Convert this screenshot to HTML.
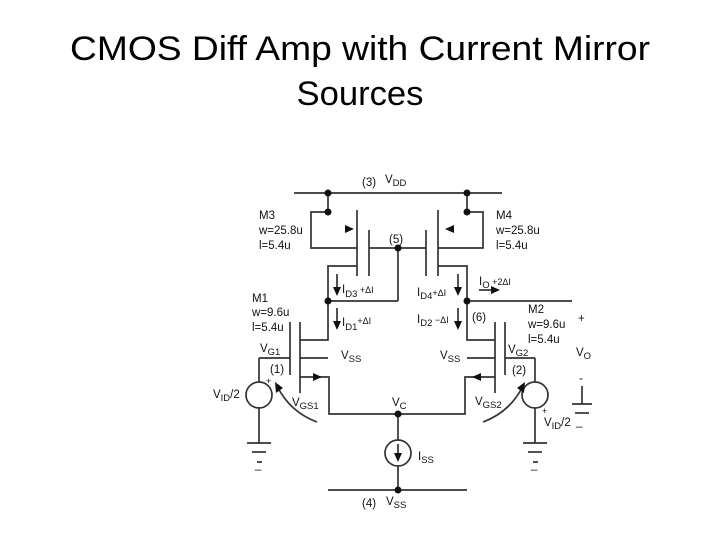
<!DOCTYPE html>
<html><head><meta charset="utf-8"><style>
html,body{margin:0;padding:0;background:#fff;}
svg{display:block;}
.t{font-family:"Liberation Sans",Arial,sans-serif;fill:#000;}
.s{font-family:"Liberation Sans",Arial,sans-serif;font-size:11.5px;fill:#111;}
.sub{font-size:9.5px;}
</style></head><body>
<svg width="720" height="540" viewBox="0 0 720 540" xmlns="http://www.w3.org/2000/svg">
<text class="t" x="360" y="60" font-size="34" text-anchor="middle" textLength="580" lengthAdjust="spacingAndGlyphs">CMOS Diff Amp with Current Mirror</text>
<text class="t" x="360" y="105" font-size="34" text-anchor="middle" textLength="127" lengthAdjust="spacingAndGlyphs">Sources</text>
<g stroke="#333" stroke-width="1.7" fill="none">
<line x1="294" y1="193" x2="502" y2="193"/>
<polyline points="328,193 328,212 311,212 311,248 357,248"/>
<line x1="357" y1="210" x2="357" y2="276"/>
<line x1="369" y1="230" x2="369" y2="276"/>
<line x1="369" y1="248" x2="426" y2="248"/>
<polyline points="357,266 328,266 328,340 300,340"/>
<line x1="328" y1="301" x2="398" y2="301"/>
<line x1="398" y1="248" x2="398" y2="301"/>
<polyline points="467,193 467,212 483,212 483,248 438,248"/>
<line x1="438" y1="210" x2="438" y2="276"/>
<line x1="426" y1="230" x2="426" y2="276"/>
<polyline points="438,266 467,266 467,340 495,340"/>
<line x1="467" y1="301" x2="572" y2="301"/>
<line x1="300" y1="322" x2="300" y2="393"/>
<line x1="290" y1="322" x2="290" y2="375"/>
<line x1="259" y1="358" x2="290" y2="358"/>
<line x1="300" y1="358" x2="328" y2="358"/>
<polyline points="300,377 329,377 329,414 465,414 465,377 495,377"/>
<line x1="495" y1="322" x2="495" y2="393"/>
<line x1="505" y1="322" x2="505" y2="375"/>
<line x1="505" y1="358" x2="535" y2="358"/>
<line x1="467" y1="358" x2="495" y2="358"/>
<line x1="259" y1="358" x2="259" y2="382"/>
<circle cx="259" cy="395" r="13"/>
<line x1="259" y1="408" x2="259" y2="443"/>
<line x1="247" y1="443" x2="271" y2="443"/>
<line x1="252" y1="452" x2="266" y2="452"/>
<line x1="257" y1="462" x2="262" y2="462"/>
<line x1="535" y1="358" x2="535" y2="382"/>
<circle cx="535" cy="395" r="13"/>
<line x1="535" y1="408" x2="535" y2="443"/>
<line x1="523" y1="443" x2="547" y2="443"/>
<line x1="528" y1="452" x2="542" y2="452"/>
<line x1="533" y1="462" x2="538" y2="462"/>
<line x1="398" y1="414" x2="398" y2="440"/>
<circle cx="398" cy="453" r="13"/>
<line x1="398" y1="466" x2="398" y2="490"/>
<line x1="398" y1="444" x2="398" y2="458"/>
<line x1="328" y1="490" x2="467" y2="490"/>
<line x1="582" y1="386" x2="582" y2="404"/>
<line x1="572" y1="404" x2="592" y2="404"/>
<line x1="575" y1="413" x2="589" y2="413"/>
<path d="M317,422 Q290,412 277,386"/>
<path d="M483,422 Q510,412 523,386"/>
<line x1="337" y1="274" x2="337" y2="290"/>
<line x1="337" y1="308" x2="337" y2="324"/>
<line x1="458" y1="274" x2="458" y2="290"/>
<line x1="458" y1="308" x2="458" y2="324"/>
<line x1="479" y1="290" x2="493" y2="290"/>
</g>
<g fill="#111">
<circle cx="328" cy="193" r="3.5"/><circle cx="328" cy="212" r="3.5"/>
<circle cx="467" cy="193" r="3.5"/><circle cx="467" cy="212" r="3.5"/>
<circle cx="398" cy="248" r="3.5"/><circle cx="328" cy="301" r="3.5"/>
<circle cx="467" cy="301" r="3.5"/><circle cx="398" cy="414" r="3.5"/>
<circle cx="398" cy="490" r="3.5"/>
<polygon points="354,229 345,225 345,233"/>
<polygon points="445,229 454,225 454,233"/>
<polygon points="322,377 313,373 313,381"/>
<polygon points="472,377 481,373 481,381"/>
<polygon points="398,462 394,453 402,453"/>
<polygon points="337,296 333,287 341,287"/>
<polygon points="337,330 333,321 341,321"/>
<polygon points="458,296 454,287 462,287"/>
<polygon points="458,330 454,321 462,321"/>
<polygon points="500,290 491,286 491,294"/>
<polygon points="275,382 276,393 283,388"/>
<polygon points="525,382 524,393 517,388"/>
</g>
<g class="s">
<text x="362" y="186">(3)</text><text x="385" y="183">V<tspan class="sub" dy="3">DD</tspan></text>
<text x="259" y="219">M3</text><text x="259" y="234">w=25.8u</text><text x="259" y="249">l=5.4u</text>
<text x="496" y="219">M4</text><text x="496" y="234">w=25.8u</text><text x="496" y="249">l=5.4u</text>
<text x="389" y="243">(5)</text>
<text x="342" y="293">I<tspan class="sub" dy="4">D3</tspan><tspan dy="-4" font-size="9"> +ΔI</tspan></text>
<text x="342" y="326">I<tspan class="sub" dy="4">D1</tspan><tspan dy="-6" font-size="9">+ΔI</tspan></text>
<text x="417" y="296">I<tspan class="sub" dy="3">D4</tspan><tspan dy="-3" font-size="9">+ΔI</tspan></text>
<text x="417" y="323">I<tspan class="sub" dy="3">D2</tspan><tspan dy="-3" font-size="9"> −ΔI</tspan></text>
<text x="479" y="285">I<tspan class="sub" dy="3">O</tspan><tspan dy="-3" font-size="9"> +2ΔI</tspan></text>
<text x="472" y="321">(6)</text>
<text x="252" y="302">M1</text><text x="252" y="316">w=9.6u</text><text x="252" y="331">l=5.4u</text>
<text x="528" y="313">M2</text><text x="528" y="328">w=9.6u</text><text x="528" y="343">l=5.4u</text>
<text x="578" y="322">+</text>
<text x="576" y="356">V<tspan class="sub" dy="3">O</tspan></text>
<text x="579" y="382">-</text>
<text x="260" y="352">V<tspan class="sub" dy="3">G1</tspan></text>
<text x="508" y="353">V<tspan class="sub" dy="3">G2</tspan></text>
<text x="341" y="359">V<tspan class="sub" dy="3">SS</tspan></text>
<text x="440" y="359">V<tspan class="sub" dy="3">SS</tspan></text>
<text x="270" y="373">(1)</text><text x="512" y="374">(2)</text>
<text x="266" y="384" font-size="9">+</text>
<text x="213" y="398">V<tspan class="sub" dy="3">ID</tspan><tspan dy="-3">/2</tspan></text>
<text x="292" y="406">V<tspan class="sub" dy="3">GS1</tspan></text>
<text x="475" y="405">V<tspan class="sub" dy="3">GS2</tspan></text>
<text x="542" y="414" font-size="9">+</text>
<text x="544" y="426">V<tspan class="sub" dy="3">ID</tspan><tspan dy="-3">/2</tspan></text>
<text x="392" y="406">V<tspan class="sub" dy="3">C</tspan></text>
<text x="418" y="460">I<tspan class="sub" dy="3">SS</tspan></text>
<text x="362" y="507">(4)</text><text x="386" y="505">V<tspan class="sub" dy="3">SS</tspan></text>
<text x="255" y="468">_</text><text x="531" y="468">_</text><text x="576" y="425">_</text>
</g>
</svg>
</body></html>
